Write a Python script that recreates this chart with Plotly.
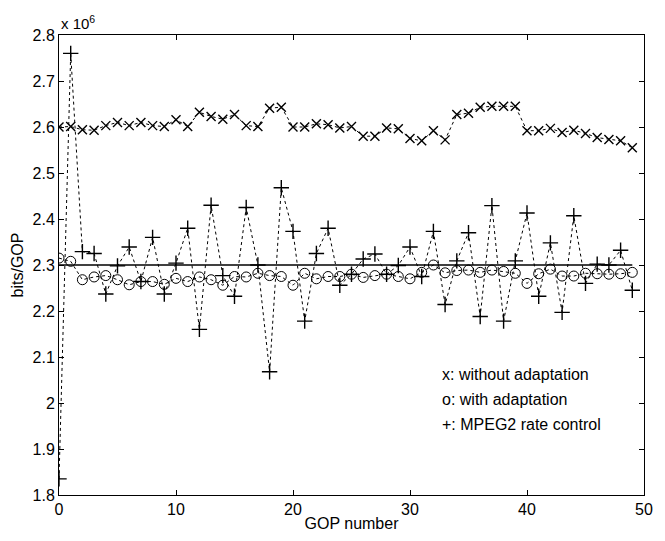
import plotly.graph_objects as go

gop = list(range(50))
without_adapt = [2.600, 2.601, 2.594, 2.593, 2.603, 2.610, 2.603, 2.610, 2.603, 2.601,
                 2.616, 2.601, 2.632, 2.623, 2.617, 2.627, 2.603, 2.601, 2.641, 2.643,
                 2.600, 2.600, 2.607, 2.605, 2.598, 2.601, 2.580, 2.580, 2.598, 2.596,
                 2.575, 2.570, 2.592, 2.572, 2.627, 2.630, 2.643, 2.645, 2.645, 2.645,
                 2.592, 2.592, 2.597, 2.588, 2.593, 2.586, 2.577, 2.573, 2.570, 2.555]
with_adapt = [2.315, 2.308, 2.268, 2.274, 2.277, 2.268, 2.257, 2.264, 2.264, 2.258,
              2.271, 2.264, 2.274, 2.268, 2.256, 2.275, 2.274, 2.282, 2.277, 2.275,
              2.256, 2.282, 2.270, 2.275, 2.275, 2.280, 2.273, 2.277, 2.280, 2.275,
              2.270, 2.284, 2.300, 2.283, 2.288, 2.289, 2.284, 2.289, 2.286, 2.282,
              2.260, 2.281, 2.291, 2.276, 2.276, 2.282, 2.281, 2.280, 2.281, 2.284]
mpeg2 = [1.835, 2.760, 2.329, 2.325, 2.237, 2.298, 2.339, 2.264, 2.360, 2.237,
         2.304, 2.380, 2.160, 2.430, 2.277, 2.232, 2.425, 2.300, 2.068, 2.468,
         2.373, 2.178, 2.325, 2.380, 2.256, 2.280, 2.313, 2.324, 2.280, 2.299,
         2.339, 2.275, 2.373, 2.214, 2.309, 2.370, 2.188, 2.429, 2.178, 2.309,
         2.413, 2.232, 2.348, 2.197, 2.407, 2.260, 2.302, 2.300, 2.332, 2.245]
target_x = [0, 49]
target_rate = [2.3, 2.3]

legend_labels = ["x: without adaptation", "o: with adaptation", "+: MPEG2 rate control"]
legend_y = [2.062, 2.008, 1.954]

y_ticks = [1.8, 1.9, 2.0, 2.1, 2.2, 2.3, 2.4, 2.5, 2.6, 2.7, 2.8]
y_ticktext = ["1.8", "1.9", "2", "2.1", "2.2", "2.3", "2.4", "2.5", "2.6", "2.7", "2.8"]
x_ticks = [0, 10, 20, 30, 40, 50]

FONT = "Liberation Sans, Arial, sans-serif"

fig = go.Figure()
fig.add_trace(go.Scatter(x=target_x, y=target_rate, mode="lines",
                         line=dict(color="black", width=1.6), hoverinfo="skip"))
fig.add_trace(go.Scatter(x=gop, y=without_adapt, mode="lines+markers",
                         line=dict(color="black", width=1, dash="dot"),
                         marker=dict(symbol="x-thin", size=9, color="black",
                                     line=dict(color="black", width=1.4))))
fig.add_trace(go.Scatter(x=gop, y=with_adapt, mode="lines+markers",
                         line=dict(color="black", width=1, dash="dot"),
                         marker=dict(symbol="circle-open", size=10, color="black",
                                     line=dict(color="black", width=1))))
fig.add_trace(go.Scatter(x=gop, y=mpeg2, mode="lines+markers",
                         line=dict(color="black", width=1, dash="dot"),
                         marker=dict(symbol="cross-thin", size=11, color="black",
                                     line=dict(color="black", width=1.4))))

for lab, yy in zip(legend_labels, legend_y):
    fig.add_annotation(x=32.6, y=yy, text=lab, showarrow=False, xanchor="left",
                       yanchor="middle", font=dict(family=FONT, size=16, color="black"))

fig.add_annotation(xref="paper", yref="paper", x=0.0, y=1.0, xanchor="left",
                   yanchor="bottom", yshift=1, text="x 10<sup>6</sup>", showarrow=False,
                   font=dict(family=FONT, size=15, color="black"))

axis_common = dict(showgrid=False, zeroline=False, showline=True, linecolor="black",
                   linewidth=1, mirror="ticks", ticks="inside", ticklen=5,
                   tickcolor="black", tickfont=dict(family=FONT, size=16, color="black"))

fig.update_layout(
    width=665, height=541,
    margin=dict(l=59, r=15, t=35, b=41),
    paper_bgcolor="white", plot_bgcolor="white",
    showlegend=False,
    xaxis=dict(range=[0, 50], tickvals=x_ticks,
               title=dict(text="GOP number", font=dict(family=FONT, size=16, color="black"),
                          standoff=0),
               **axis_common),
    yaxis=dict(range=[1.8, 2.8], tickvals=y_ticks, ticktext=y_ticktext,
               title=dict(text="bits/GOP", font=dict(family=FONT, size=16, color="black"),
                          standoff=4),
               **axis_common),
)

fig.write_html("out.html")
